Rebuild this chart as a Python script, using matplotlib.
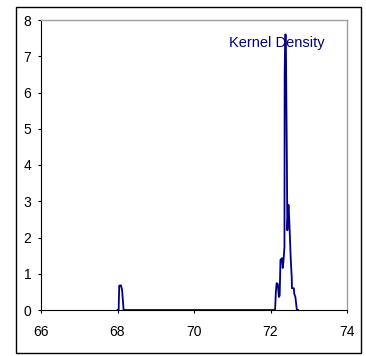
import matplotlib
matplotlib.use("Agg")
import matplotlib.pyplot as plt
from matplotlib.patches import Rectangle

plt.rcParams['font.family'] = ['Liberation Sans', 'DejaVu Sans']

# Kernel density curve
x_vals = [68.00, 68.03, 68.045, 68.09, 68.12, 68.16,
          72.12, 72.14, 72.16, 72.19, 72.22, 72.24, 72.26, 72.30, 72.32, 72.335,
          72.365, 72.37, 72.385, 72.40, 72.43, 72.44, 72.47, 72.49, 72.53,
          72.555, 72.56, 72.61, 72.62, 72.65, 72.69, 72.72]
density = [0.0, 0.0, 0.67, 0.68, 0.55, 0.0,
           0.0, 0.5, 0.74, 0.72, 0.36, 0.4, 1.38, 1.43, 1.16, 1.3,
           1.74, 6.5, 7.6, 7.6, 3.9, 2.2, 2.9, 2.5, 1.38,
           0.9, 0.6, 0.6, 0.45, 0.36, 0.0, 0.0]
x_ticks = [66, 68, 70, 72, 74]
y_ticks = [0, 1, 2, 3, 4, 5, 6, 7, 8]
series_label = "Kernel Density"

W, H = 366, 356
fig = plt.figure(figsize=(W / 100, H / 100), dpi=100)
fig.patch.set_facecolor('white')

# outer chart border
fig.patches.append(Rectangle((16 / W, 1 - 353 / H), (361 - 16) / W, (353 - 7) / H,
                             transform=fig.transFigure, fill=False,
                             edgecolor='black', linewidth=1.0))

ax = fig.add_axes([41 / W, 1 - 310 / H, (347 - 41) / W, (310 - 20) / H])
ax.plot(x_vals, density, color='#000080', linewidth=1.3)

ax.set_xlim(66, 74)
ax.set_ylim(0, 8)
ax.set_xticks(x_ticks)
ax.set_yticks(y_ticks)
ax.tick_params(direction='out', length=2.5, width=0.8, labelsize=10, colors='black')
ax.tick_params(axis='y', pad=4.5)
ax.tick_params(axis='x', pad=8)

for side in ['top', 'right']:
    ax.spines[side].set_color('#a0a0a0')
    ax.spines[side].set_linewidth(1.0)
for side in ['left', 'bottom']:
    ax.spines[side].set_color('black')
    ax.spines[side].set_linewidth(0.8)

ax.text(276.5 / W, 1 - 43 / H, series_label, transform=fig.transFigure,
        ha='center', va='center', fontsize=10.5, color='#000080')

fig.savefig('out.png', dpi=100)
